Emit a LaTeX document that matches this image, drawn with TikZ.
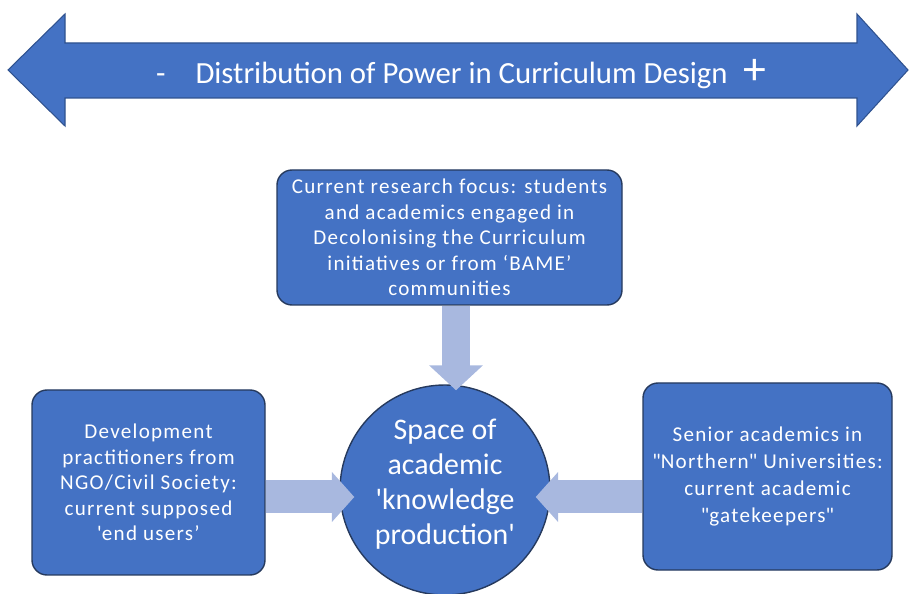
\documentclass[tikz,border=0pt]{standalone}
\usepackage{fontspec}
\setmainfont{Carlito}
\newfontfamily\spacedfont[LetterSpace=6]{Carlito}
\usepackage{tikz}
\usetikzlibrary{arrows.meta,positioning}
\definecolor{boxblue}{HTML}{4472C4}
\definecolor{edgeblue}{HTML}{2F528F}
\definecolor{darkedge}{HTML}{263A5E}
\definecolor{paleblue}{HTML}{A8B8DF}

\tikzset{
	groupbox/.style={draw=darkedge,thick,fill=boxblue,rounded corners=0.3cm,text=white,align=center,inner sep=2pt},
	spacecircle/.style={circle,draw=darkedge,thick,fill=boxblue,minimum size=4.2cm,inner sep=0pt},
	flowarrow/.style={paleblue,line width=0.56cm,-{Triangle[width=1.05cm,length=0.5cm]}},
	sidearrow/.style={paleblue,line width=0.66cm,-{Triangle[width=0.98cm,length=0.45cm]}}
}

\begin{document}
\begin{tikzpicture}
	\useasboundingbox (0,0) rectangle (18.18,11.86);

	% power axis
	\draw[edgeblue,fill=boxblue,line width=0.6pt] (0.16,10.46) -- (1.3,11.58) -- (1.3,11.0) -- (17.14,11.0) -- (17.14,11.58)
		-- (18.16,10.46) -- (17.14,9.34) -- (17.14,9.9) -- (1.3,9.9) -- (1.3,9.34) -- cycle;
	\node[text=white,font=\fontsize{17.5}{20}\selectfont] (axis) at (9.22,10.38)
		{-\hspace{0.6cm}Distribution of Power in Curriculum Design\enspace\raisebox{-1pt}{\fontsize{26}{26}\selectfont +}};

	% central space
	\node[spacecircle] (space) at (8.9,2.06) {};
	\node[text=white,align=center,font=\fontsize{17}{20}\selectfont] (spacetext) at ([yshift=0.12cm]space.center)
		{Space of\\academic\\\textquotesingle knowledge\\production\textquotesingle};

	% research focus
	\node[groupbox,minimum width=6.9cm,minimum height=2.7cm,font=\spacedfont\fontsize{12}{14.5}\selectfont] (focus) at (8.99,7.11)
		{Current research focus: students\\and academics engaged in\\Decolonising the Curriculum\\initiatives or from ‘BAME’\\communities};

	% practitioners
	\node[groupbox,minimum width=4.66cm,minimum height=3.7cm,font=\spacedfont\fontsize{12}{14.5}\selectfont] (users) at (2.97,2.21)
		{Development\\practitioners from\\NGO/Civil Society:\\current supposed\\\textquotesingle end users’};

	% gatekeepers
	\node[groupbox,minimum width=4.98cm,minimum height=3.74cm,font=\spacedfont\fontsize{12}{15.3}\selectfont] (gatekeepers) at (15.35,2.33)
		{Senior academics in\\\textquotedbl Northern\textquotedbl\ Universities:\\current academic\\\textquotedbl gatekeepers\textquotedbl};

	% arrows into the space
	\draw[flowarrow,shorten >=-0.12cm] ([xshift=0.13cm]focus.south) -- ([xshift=0.13cm]focus.south |- space.north);
	\draw[sidearrow,shorten >=-0.3cm] (users.east |- 0,1.92) -- (space.west |- 0,1.92);
	\draw[sidearrow,shorten >=-0.3cm] (gatekeepers.west |- 0,1.92) -- (space.east |- 0,1.92);

\end{tikzpicture}
\end{document}
